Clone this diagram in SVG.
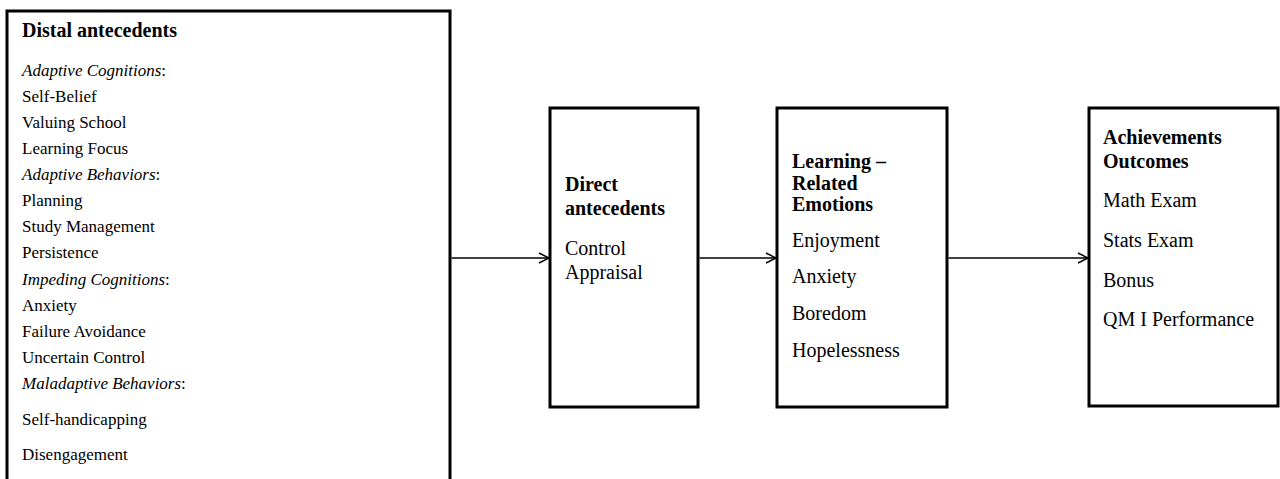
<svg xmlns="http://www.w3.org/2000/svg" width="1280" height="479" viewBox="0 0 1280 479">
<style>
.box{fill:#fff;stroke:#000;stroke-width:3}
text{font-family:"Liberation Serif","Times New Roman",serif;fill:#000}
.t1{font-size:17px}
.h1{font-size:20px;font-weight:bold}
.t2{font-size:20px}
.h2{font-size:20px;font-weight:bold}
.it{font-style:italic}
.con{stroke:#000;stroke-width:1.5;fill:none}
</style>
<defs>
<marker id="arr" viewBox="0 0 12 12" refX="11" refY="6" markerWidth="12" markerHeight="12" markerUnits="userSpaceOnUse" orient="auto">
<path d="M1,1 L11,6 L1,11" fill="none" stroke="#000" stroke-width="1.5"/>
</marker>
</defs>
<g id="distal">
<rect class="box" x="7" y="11" width="443" height="480"/>
<text class="h1" x="22" y="37">Distal antecedents</text>
<text class="t1" x="22" y="76"><tspan class="it">Adaptive Cognitions</tspan>:</text>
<text class="t1" x="22" y="102">Self-Belief</text>
<text class="t1" x="22" y="128">Valuing School</text>
<text class="t1" x="22" y="154">Learning Focus</text>
<text class="t1" x="22" y="180"><tspan class="it">Adaptive Behaviors</tspan>:</text>
<text class="t1" x="22" y="206">Planning</text>
<text class="t1" x="22" y="232">Study Management</text>
<text class="t1" x="22" y="258">Persistence</text>
<text class="t1" x="22" y="285"><tspan class="it">Impeding Cognitions</tspan>:</text>
<text class="t1" x="22" y="311">Anxiety</text>
<text class="t1" x="22" y="337">Failure Avoidance</text>
<text class="t1" x="22" y="363">Uncertain Control</text>
<text class="t1" x="22" y="389"><tspan class="it">Maladaptive Behaviors</tspan>:</text>
<text class="t1" x="22" y="425">Self-handicapping</text>
<text class="t1" x="22" y="460">Disengagement</text>
</g>
<g id="direct">
<rect class="box" x="550" y="108" width="148" height="299"/>
<text class="h2" x="565" y="191">Direct</text>
<text class="h2" x="565" y="215">antecedents</text>
<text class="t2" x="565" y="255">Control</text>
<text class="t2" x="565" y="279">Appraisal</text>
</g>
<g id="emotions">
<rect class="box" x="777" y="108" width="170" height="299"/>
<text class="h2" x="792" y="168">Learning –</text>
<text class="h2" x="792" y="190">Related</text>
<text class="h2" x="792" y="211">Emotions</text>
<text class="t2" x="792" y="247">Enjoyment</text>
<text class="t2" x="792" y="283">Anxiety</text>
<text class="t2" x="792" y="320">Boredom</text>
<text class="t2" x="792" y="357">Hopelessness</text>
</g>
<g id="outcomes">
<rect class="box" x="1089" y="108" width="189" height="298"/>
<text class="h2" x="1103" y="144">Achievements</text>
<text class="h2" x="1103" y="168">Outcomes</text>
<text class="t2" x="1103" y="207">Math Exam</text>
<text class="t2" x="1103" y="247">Stats Exam</text>
<text class="t2" x="1103" y="287">Bonus</text>
<text class="t2" x="1103" y="326">QM I Performance</text>
</g>
<g id="connectors">
<line class="con" x1="451.5" y1="258" x2="549" y2="258" marker-end="url(#arr)"/>
<line class="con" x1="699.5" y1="258" x2="776" y2="258" marker-end="url(#arr)"/>
<line class="con" x1="948.5" y1="258" x2="1088" y2="258" marker-end="url(#arr)"/>
</g>
</svg>
